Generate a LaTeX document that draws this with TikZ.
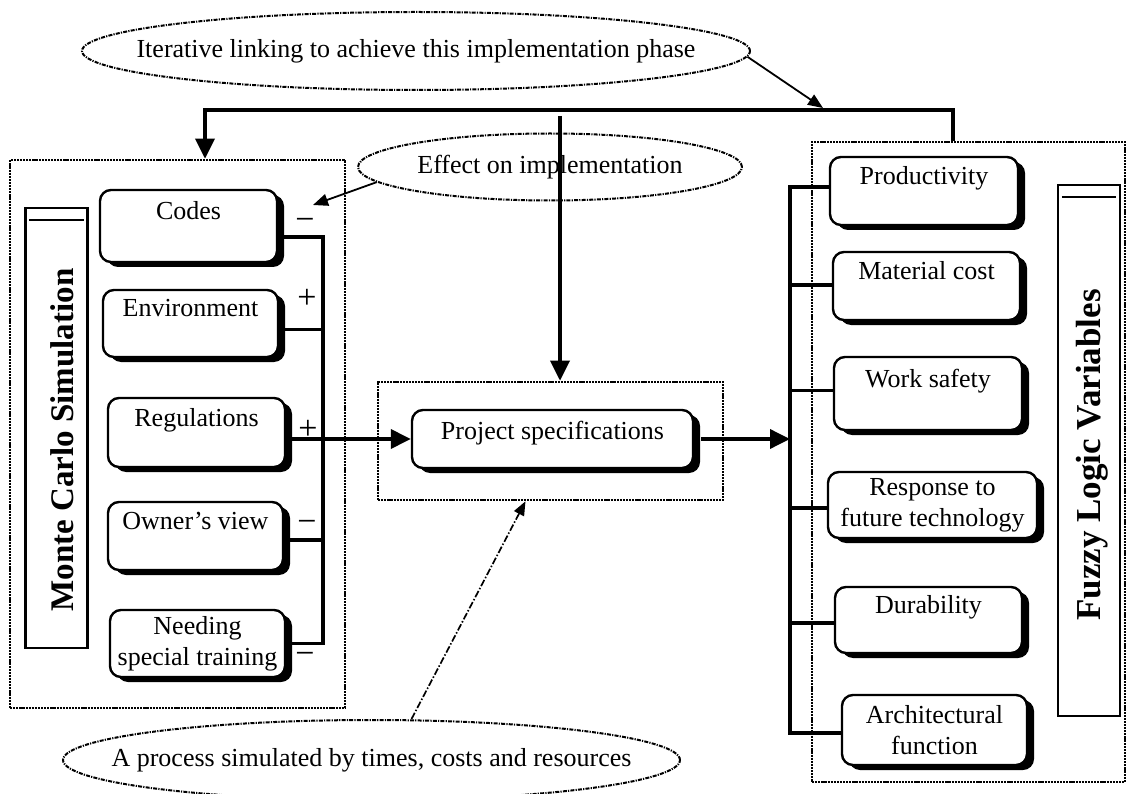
\documentclass[tikz,border=0pt]{standalone}
\usepackage{fontspec}
\setmainfont{Liberation Serif}
\usetikzlibrary{arrows.meta,shapes.geometric,shadows}
\pgfdeclarelayer{background}
\pgfsetlayers{background,main}

\begin{document}
\begin{tikzpicture}[x=1pt,y=-1pt,
  box/.style={draw, line width=2.4pt, rounded corners=11pt, fill=white,
    align=center, inner sep=2pt, font=\fontsize{26}{31}\selectfont,
    drop shadow={shadow xshift=7pt, shadow yshift=-5pt, fill=black, opacity=1}},
  groupbox/.style={draw, line width=2.6pt, dash pattern=on 2.2pt off 0.9pt, inner sep=0},
  lblbox/.style={draw, line width=2.4pt, inner sep=0},
  lbltext/.style={font=\bfseries\fontsize{33}{33}\selectfont, inner sep=0},
  ell/.style={ellipse, draw, line width=2pt,
    dash pattern=on 4pt off 1.2pt on 1.2pt off 1.2pt,
    inner xsep=-200pt, inner ysep=0pt,
    font=\fontsize{26}{31}\selectfont},
  sign/.style={font=\fontsize{34}{34}\selectfont, inner sep=0},
  bus/.style={line width=3.6pt},
  bushead/.style={-{Triangle[length=20pt,width=19pt]}},
  thinarrow/.style={line width=1.8pt, -{Triangle[length=15pt,width=12pt]}},
  dasharrow/.style={line width=1.7pt, dash pattern=on 7pt off 2pt on 1.5pt off 2pt,
    -{Triangle[length=14pt,width=11pt]}}]

\useasboundingbox (0,0) rectangle (1127,794);

% ---- group frames ----
\node[groupbox, minimum width=335pt, minimum height=548pt] (mcg) at (177.5,434) {};
\node[groupbox, minimum width=345pt, minimum height=118pt] (mid) at (550.5,441) {};
\node[groupbox, minimum width=313pt, minimum height=640pt] (fzg) at (968.5,462) {};

% ---- side labels ----
\node[lblbox, minimum width=62pt, minimum height=440pt] (mcl) at (56.5,428) {};
\node[lbltext, rotate=90] (mclt) at (62,440) {Monte Carlo Simulation};
\draw[line width=2.2pt] ([xshift=5pt,yshift=-13pt]mcl.north west) -- ([xshift=-5pt,yshift=-13pt]mcl.north east);

\node[lblbox, minimum width=62pt, minimum height=531pt] (fzl) at (1089,450.5) {};
\node[lbltext, rotate=90, font=\bfseries\fontsize{35}{35}\selectfont] (fzlt) at (1092,455) {Fuzzy Logic Variables};
\draw[line width=2.2pt] ([xshift=5pt,yshift=-13pt]fzl.north west) -- ([xshift=-5pt,yshift=-13pt]fzl.north east);

% ---- left factor boxes ----
\node[box, minimum width=177pt, minimum height=72pt] (codes) at (188.5,226) {Codes\\\mbox{}};
\node[box, minimum width=175pt, minimum height=67pt] (env) at (190.5,323.5) {Environment\\\mbox{}};
\node[box, minimum width=177pt, minimum height=69pt] (reg) at (196.5,432.5) {Regulations\\\mbox{}};
\node[box, minimum width=175pt, minimum height=68pt] (own) at (195.5,536) {Owner’s view\\\mbox{}};
\node[box, minimum width=175pt, minimum height=67pt] (need) at (197.5,643.5) {Needing\\special training};

% ---- central box ----
\node[box, minimum width=281pt, minimum height=58pt, text depth=17pt] (proj) at (552.5,439) {Project specifications};

% ---- right variable boxes ----
\node[box, minimum width=188pt, minimum height=68pt] (prod) at (924,191) {Productivity\\\mbox{}};
\node[box, minimum width=187pt, minimum height=68pt] (mat) at (926.5,286) {Material cost\\\mbox{}};
\node[box, minimum width=188pt, minimum height=73pt] (safe) at (928,393.5) {Work safety\\\mbox{}};
\node[box, minimum width=209pt, minimum height=66pt] (resp) at (932.5,505) {Response to\\future technology};
\node[box, minimum width=187pt, minimum height=66pt] (dur) at (928.5,620) {Durability\\\mbox{}};
\node[box, minimum width=185pt, minimum height=70pt] (arch) at (934.5,730) {Architectural\\function};

% ---- ellipses ----
\node[ell, minimum width=668pt, minimum height=78pt] (iter) at (416,51) {Iterative linking to achieve this implementation phase};
\node[ell, minimum width=384pt, minimum height=67pt] (eff) at (550,167) {Effect on implementation};
\node[ell, minimum width=617pt, minimum height=80pt] (proc) at (371.5,760) {A process simulated by times, costs and resources};

% ---- signs ----
\node[sign] (s1) at (305,224) {−};
\node[sign] (s2) at (307,299) {+};
\node[sign] (s3) at (308,430) {+};
\node[sign] (s4) at (307,526) {−};
\node[sign] (s5) at (305,658) {−};

% ---- connectors ----
\coordinate (lb) at (323,0);
\coordinate (rb) at (790,0);
\coordinate (tl) at (205,110);
\coordinate (tr) at (953,110);
\coordinate (vt) at (560,116);
\coordinate (itertip) at (823,108);
\coordinate (efftip) at (313,205);

\begin{pgfonlayer}{background}
  % left collector
  \draw[bus] ([yshift=-11pt]codes.east) -| (need.east -| lb) -- (need.east);
  \draw[bus] ([yshift=-6pt]env.east) -- ([yshift=-6pt]env.east -| lb);
  \draw[bus] ([yshift=-4pt]own.east) -- ([yshift=-4pt]own.east -| lb);
  % right collector
  \draw[bus] ([yshift=4pt]prod.west) -| ([yshift=-3pt]arch.west -| rb) -- ([yshift=-3pt]arch.west);
  \draw[bus] ([yshift=1pt]mat.west -| rb) -- ([yshift=1pt]mat.west);
  \draw[bus] ([yshift=3pt]safe.west -| rb) -- ([yshift=3pt]safe.west);
  \draw[bus] ([yshift=-3pt]resp.west -| rb) -- ([yshift=-3pt]resp.west);
  \draw[bus] ([yshift=-3pt]dur.west -| rb) -- ([yshift=-3pt]dur.west);
\end{pgfonlayer}

% main flow
\draw[bus, bushead] (proj.west -| reg.east) -- (proj.west);
\draw[bus, bushead] ([xshift=7pt]proj.east) -- (proj.east -| rb);
\draw[bus, bushead, line join=miter] (tr |- fzg.north) -- (tr) -- (tl) -- (tl |- mcg.north);
\draw[bus, bushead] (vt) -- (vt |- mid.north);

% annotation arrows
\draw[thinarrow] (iter.-1.6) -- (itertip);
\draw[thinarrow] (eff.185) -- (efftip);
\draw[dasharrow] ([xshift=40pt]proc.north) -- ([xshift=-25pt]mid.south);

\end{tikzpicture}
\end{document}
